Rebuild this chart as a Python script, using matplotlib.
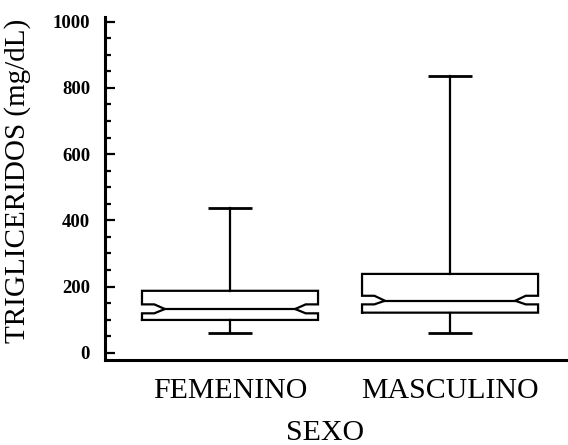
import matplotlib

matplotlib.use("Agg")

import matplotlib.pyplot as plt
from matplotlib.ticker import MultipleLocator

# Summary statistics per group (mg/dL)
groups = ["FEMENINO", "MASCULINO"]
whisker_low = [59, 60]
q1 = [99, 121]
median = [132, 157]
q3 = [187, 238]
whisker_high = [436, 836]
notch_low = [119, 146]
notch_high = [146, 172]

BOX_W = 0.80
CAP_W = 0.20
NOTCH_IN = 0.07   # horizontal indent of the notch, fraction of box width
NOTCH_TIP = 0.13  # depth of the notch tip at the median
LW = 1.6

plt.rcParams["font.family"] = ["Liberation Serif", "DejaVu Serif"]

fig = plt.figure(figsize=(5.68, 4.45), dpi=100)
ax = fig.add_axes([0.1849, 0.191, 0.8151, 0.7708])

for i, name in enumerate(groups):
    pos = i + 1
    left, right = pos - BOX_W / 2, pos + BOX_W / 2
    d1, d2 = NOTCH_IN * BOX_W, NOTCH_TIP * BOX_W
    xs = [left, left, left + d1, left + d2, left + d1, left, left,
          right, right, right - d1, right - d2, right - d1, right, right, left]
    ys = [q1[i], notch_low[i], notch_low[i], median[i], notch_high[i], notch_high[i], q3[i],
          q3[i], notch_high[i], notch_high[i], median[i], notch_low[i], notch_low[i], q1[i], q1[i]]
    ax.plot(xs, ys, color="black", lw=LW, solid_joinstyle="miter")
    ax.plot([left + d2, right - d2], [median[i], median[i]], color="black", lw=LW)
    # whiskers and caps
    ax.plot([pos, pos], [q3[i], whisker_high[i]], color="black", lw=LW)
    ax.plot([pos, pos], [q1[i], whisker_low[i]], color="black", lw=LW)
    for y in (whisker_low[i], whisker_high[i]):
        ax.plot([pos - CAP_W / 2, pos + CAP_W / 2], [y, y], color="black", lw=LW + 0.4,
                solid_capstyle="butt")

ax.set_xlim(0.432, 2.536)
ax.set_ylim(-22, 1014)
ax.set_xticks([1, 2])
ax.set_xticklabels(groups, fontsize=21.5)
ax.yaxis.set_major_locator(MultipleLocator(200))
ax.yaxis.set_minor_locator(MultipleLocator(50))

for side in ("top", "right"):
    ax.spines[side].set_visible(False)
for side in ("left", "bottom"):
    ax.spines[side].set_linewidth(2.2)

ax.tick_params(axis="x", length=0, pad=13)
ax.tick_params(axis="y", which="major", direction="in", length=7, width=1.6, pad=10.8)
ax.tick_params(axis="y", which="minor", direction="in", length=4.5, width=1.6)
for lab in ax.get_yticklabels():
    lab.set_fontsize(13.5)
    lab.set_fontweight("bold")

ax.set_xlabel("SEXO", fontsize=21.5)
ax.xaxis.set_label_coords(0.475, -0.175)
ax.set_ylabel("TRIGLICERIDOS (mg/dL)", fontsize=21, va="center")
ax.yaxis.set_label_coords(-0.19, 0.522)

fig.savefig("out.png", dpi=100)
